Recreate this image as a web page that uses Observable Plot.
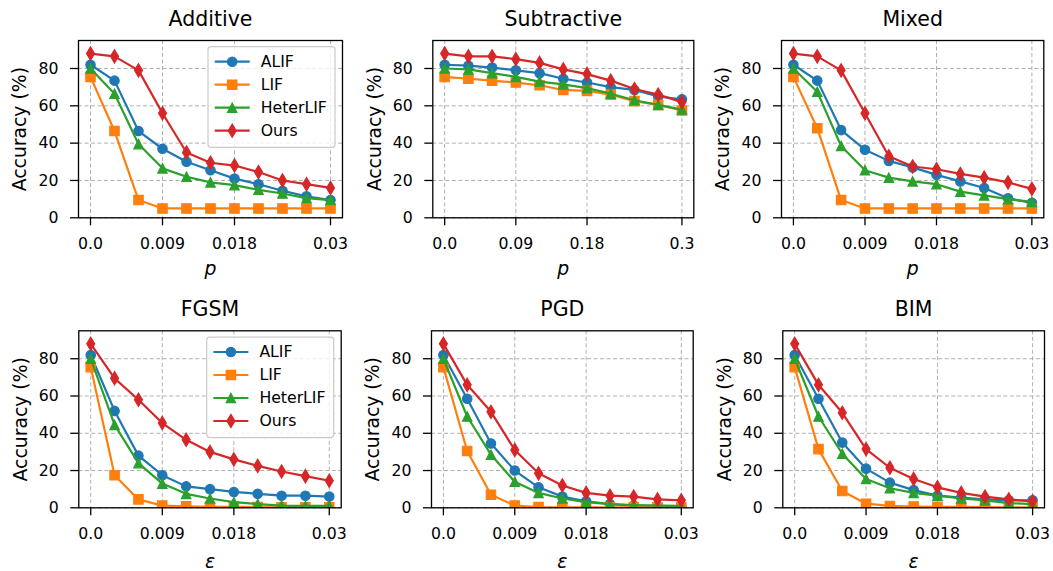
<!DOCTYPE html>
<html>
<head>
<meta charset="utf-8">
<script src="https://cdn.jsdelivr.net/npm/d3@7"></script>
<script src="https://cdn.jsdelivr.net/npm/@observablehq/plot@0.6"></script>
<style>
  body { margin: 0; background: #fff; }
  #root { position: relative; width: 1053px; height: 571px; overflow: hidden; background: #fff; font-family: "DejaVu Sans"; }
  .panel { position: absolute; }
  .panel svg { overflow: visible; }
</style>
</head>
<body>
<div id="root"></div>
<script>
// ---------- data ----------
const seriesNames = ["ALIF", "LIF", "HeterLIF", "Ours"];
const seriesColors = ["#1f77b4", "#ff7f0e", "#2ca02c", "#d62728"];

const xSmall = [0, 0.003, 0.006, 0.009, 0.012, 0.015, 0.018, 0.021, 0.024, 0.027, 0.03];
const xLarge = [0, 0.03, 0.06, 0.09, 0.12, 0.15, 0.18, 0.21, 0.24, 0.27, 0.3];
const ticksSmall = [0, 0.009, 0.018, 0.03];
const tickLabelsSmall = ["0.0", "0.009", "0.018", "0.03"];
const ticksLarge = [0, 0.09, 0.18, 0.3];
const tickLabelsLarge = ["0.0", "0.09", "0.18", "0.3"];
const yTicks = [0, 20, 40, 60, 80];
const yLabel = "Accuracy (%)";

const additiveALIF     = [82, 73.5, 46.5, 37, 30, 25.5, 21, 18, 14.5, 11.5, 9.5];
const additiveLIF      = [75.5, 46.5, 9.5, 5, 5, 5, 5, 5, 5, 5, 5];
const additiveHeterLIF = [80, 66.5, 39.5, 26.5, 22, 19, 17.5, 15, 13, 10.5, 9.5];
const additiveOurs     = [88, 86.5, 79, 56, 35, 29.5, 28, 24.5, 20, 18, 16];

const subtractiveALIF     = [82, 81.5, 80.5, 79, 77.5, 74.5, 72.5, 70, 68.5, 65, 63.5];
const subtractiveLIF      = [75.5, 74.5, 73.5, 72.5, 71, 68.5, 68, 66, 62.5, 60.5, 57.5];
const subtractiveHeterLIF = [80, 79.5, 77.5, 75.5, 73, 71.5, 69.5, 66.5, 63, 60.5, 58];
const subtractiveOurs     = [88, 86.5, 86.5, 85, 83, 79.5, 77, 73.5, 69, 66, 62];

const mixedALIF     = [82, 73.5, 47, 36.5, 30.5, 27, 23, 19.5, 16, 10.5, 8];
const mixedLIF      = [75.5, 48, 9.5, 5, 5, 5, 5, 5, 5, 5, 5];
const mixedHeterLIF = [80, 67.5, 38.5, 25.5, 21.5, 19.5, 18, 14, 12, 10, 8.5];
const mixedOurs     = [88, 86.5, 79, 56, 33, 27.5, 26, 23.5, 21.5, 19, 15.5];

const fgsmALIF     = [82, 52, 28, 17.5, 11.5, 10, 8.5, 7.5, 6.5, 6.5, 6];
const fgsmLIF      = [75.5, 17.5, 4.5, 1.2, 0.8, 0.5, 0.5, 0.4, 0.3, 0.3, 0.3];
const fgsmHeterLIF = [80, 44.5, 24, 13, 7.5, 5, 3, 2, 1.2, 1, 1];
const fgsmOurs     = [88, 69.5, 58, 45.5, 36.5, 30, 26, 22.5, 19.5, 17, 14.5];

const pgdALIF     = [82, 58.5, 34.5, 20, 11, 6, 3.5, 2, 1.2, 1, 0.8];
const pgdLIF      = [75.5, 30.5, 7, 1.2, 0.4, 0.3, 0.3, 0.3, 0.3, 0.3, 0.3];
const pgdHeterLIF = [80, 49, 28.5, 14, 8, 5, 3, 2, 1.5, 1.2, 1];
const pgdOurs     = [88, 66, 51.5, 31, 18.5, 12, 8, 6.5, 6, 4.5, 4];

const bimALIF     = [82, 58.5, 35, 21, 13.5, 9.5, 6.5, 5.5, 4.5, 4, 4];
const bimLIF      = [75.5, 31.5, 9, 2.2, 1, 0.7, 0.5, 0.5, 0.4, 0.3, 0.3];
const bimHeterLIF = [80, 49, 29, 15.5, 10.5, 8, 6.5, 5, 4, 2.5, 2];
const bimOurs     = [88, 66, 51, 31.5, 21.5, 15.5, 11, 8, 6, 4.5, 3.5];

// ---------- marker shapes (matplotlib-like) ----------
const MR = 4.7; // marker radius in px
function sideOf(size) { return Math.sqrt(size / Math.PI) * 2; }
const symCircle = { draw(ctx, size) { const s = sideOf(size); ctx.moveTo(s / 2, 0); ctx.arc(0, 0, s / 2, 0, 2 * Math.PI); ctx.closePath(); } };
const symSquare = { draw(ctx, size) { const s = sideOf(size); ctx.rect(-s / 2, -s / 2, s, s); } };
const symTriangle = { draw(ctx, size) { const s = sideOf(size); ctx.moveTo(0, -s / 2); ctx.lineTo(s / 2, s / 2); ctx.lineTo(-s / 2, s / 2); ctx.closePath(); } };
const symThinDiamond = { draw(ctx, size) { const s = sideOf(size); const h = s * Math.SQRT1_2, w = 0.6 * h; ctx.moveTo(0, -h); ctx.lineTo(w, 0); ctx.lineTo(0, h); ctx.lineTo(-w, 0); ctx.closePath(); } };
const seriesSymbols = [symCircle, symSquare, symTriangle, symThinDiamond];

// ---------- panels ----------
const panels = [
  { title: "Additive", xlabel: "p", xs: xSmall, ticks: ticksSmall, tickLabels: tickLabelsSmall,
    values: [additiveALIF, additiveLIF, additiveHeterLIF, additiveOurs], legend: true,
    left: 0, top: 0, width: 350, height: 285, L: 78, R: 342, T: 40, B: 217.3, xlabelDy: 57 },
  { title: "Subtractive", xlabel: "p", xs: xLarge, ticks: ticksLarge, tickLabels: tickLabelsLarge,
    values: [subtractiveALIF, subtractiveLIF, subtractiveHeterLIF, subtractiveOurs], legend: false,
    left: 350, top: 0, width: 350, height: 285, L: 432.3, R: 693.3, T: 40, B: 217.3, xlabelDy: 57 },
  { title: "Mixed", xlabel: "p", xs: xSmall, ticks: ticksSmall, tickLabels: tickLabelsSmall,
    values: [mixedALIF, mixedLIF, mixedHeterLIF, mixedOurs], legend: false,
    left: 700, top: 0, width: 353, height: 285, L: 781, R: 1043.3, T: 40, B: 217.3, xlabelDy: 57 },
  { title: "FGSM", xlabel: "ε", xs: xSmall, ticks: ticksSmall, tickLabels: tickLabelsSmall,
    values: [fgsmALIF, fgsmLIF, fgsmHeterLIF, fgsmOurs], legend: true,
    left: 0, top: 285, width: 350, height: 286, L: 78.3, R: 340.7, T: 330.3, B: 507.3, xlabelDy: 60.5 },
  { title: "PGD", xlabel: "ε", xs: xSmall, ticks: ticksSmall, tickLabels: tickLabelsSmall,
    values: [pgdALIF, pgdLIF, pgdHeterLIF, pgdOurs], legend: false,
    left: 350, top: 285, width: 350, height: 286, L: 431, R: 692.7, T: 330.3, B: 507.3, xlabelDy: 60.5 },
  { title: "BIM", xlabel: "ε", xs: xSmall, ticks: ticksSmall, tickLabels: tickLabelsSmall,
    values: [bimALIF, bimLIF, bimHeterLIF, bimOurs], legend: false,
    left: 700, top: 285, width: 353, height: 286, L: 782.3, R: 1044, T: 330.3, B: 507.3, xlabelDy: 60.5 }
];

const root = document.getElementById("root");
const gridStyle = { stroke: "#b0b0b0", strokeOpacity: 1, strokeWidth: 1, strokeDasharray: "4,2.5" };

panels.forEach(p => {
  const rows = [];
  p.values.forEach((vals, si) => vals.forEach((v, i) => rows.push({ x: p.xs[i], y: v, s: seriesNames[si] })));
  const xr = p.xs[p.xs.length - 1];
  const marks = [
    Plot.gridX(p.ticks, { x: d => d, ...gridStyle }),
    Plot.gridY(yTicks, { y: d => d, ...gridStyle })
  ];
  seriesNames.forEach((name, si) => {
    const f = d => d.s === name;
    marks.push(Plot.line(rows, { filter: f, x: "x", y: "y", stroke: "s", strokeWidth: 2.2, clip: true }));
    marks.push(Plot.dot(rows, { filter: f, x: "x", y: "y", fill: "s", stroke: "s", symbol: seriesSymbols[si], r: MR, strokeWidth: 1.2, clip: true }));
  });
  marks.push(
    Plot.frame({ stroke: "black", strokeWidth: 1.3 }),
    Plot.axisX({ ticks: p.ticks, tickSize: 8, tickPadding: 12, tickFormat: d => p.tickLabels[p.ticks.indexOf(d)], fontSize: 15.7, strokeWidth: 1.3, label: null }),
    Plot.axisY({ ticks: yTicks, tickSize: 8, tickPadding: 12, fontSize: 15.7, strokeWidth: 1.3, label: null }),
    Plot.text([p.title], { text: d => d, frameAnchor: "top", lineAnchor: "bottom", dy: -15, fontSize: 20.5, fill: "black" }),
    Plot.text([p.xlabel], { text: d => d, frameAnchor: "bottom", lineAnchor: "bottom", dy: p.xlabelDy, fontSize: 18.8, fontStyle: "italic", fill: "black" }),
    Plot.text([yLabel], { text: d => d, frameAnchor: "left", textAnchor: "middle", lineAnchor: "bottom", rotate: -90, dx: -52.3, fontSize: 18.8, fill: "black" })
  );
  const chart = Plot.plot({
    width: p.width, height: p.height,
    marginLeft: p.L - p.left, marginRight: p.left + p.width - p.R,
    marginTop: p.T - p.top, marginBottom: p.top + p.height - p.B,
    style: { fontFamily: "DejaVu Sans", color: "black", background: "none", overflow: "visible" },
    x: { domain: [-0.05 * xr, 1.05 * xr] },
    y: { domain: [0, 95] },
    color: { domain: seriesNames, range: seriesColors },
    marks
  });

  if (p.legend) {
    const svg = d3.select(chart);
    const bw = 127, bh = 100.6;
    const bx = p.R - p.left - 7 - bw, by = p.T - p.top + 6.7;
    const g = svg.append("g").attr("transform", `translate(${bx},${by})`);
    g.append("rect").attr("width", bw).attr("height", bh).attr("rx", 3)
      .attr("fill", "rgba(255,255,255,0.8)").attr("stroke", "#cccccc").attr("stroke-width", 1.25);
    seriesNames.forEach((name, i) => {
      const cy = 15 + i * 23;
      g.append("line").attr("x1", 6.7).attr("x2", 41.7).attr("y1", cy).attr("y2", cy)
        .attr("stroke", seriesColors[i]).attr("stroke-width", 2.2);
      g.append("path").attr("d", d3.symbol(seriesSymbols[i], Math.PI * MR * MR)())
        .attr("transform", `translate(24.2,${cy})`)
        .attr("fill", seriesColors[i]).attr("stroke", seriesColors[i]).attr("stroke-width", 1.2);
      g.append("text").attr("x", 52.7).attr("y", cy).attr("dy", "0.35em")
        .attr("text-anchor", "start")
        .attr("font-size", 15.7).attr("fill", "black").attr("font-family", "DejaVu Sans").text(name);
    });
  }

  const div = document.createElement("div");
  div.className = "panel";
  div.style.left = p.left + "px";
  div.style.top = p.top + "px";
  div.appendChild(chart);
  root.appendChild(div);
});
</script>
</body>
</html>
